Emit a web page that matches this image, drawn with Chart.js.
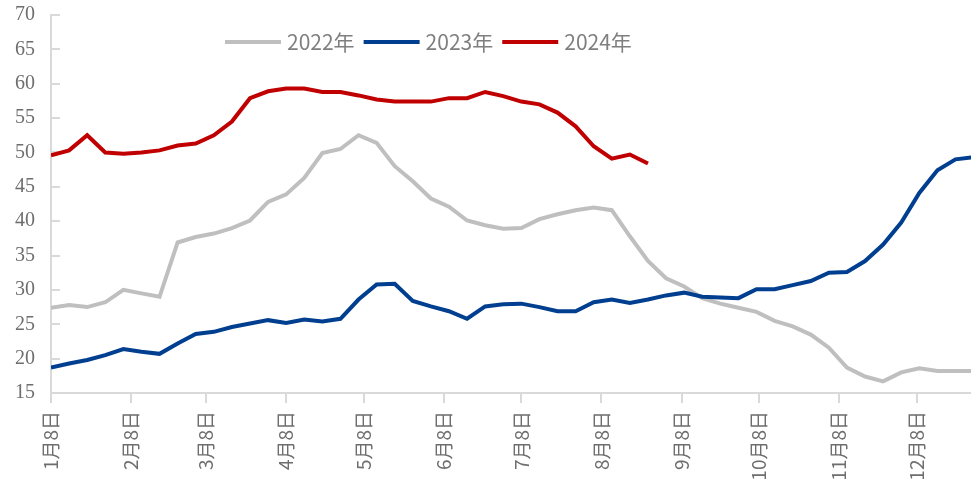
<!DOCTYPE html>
<html>
<head>
<meta charset="utf-8">
<script src="https://cdn.jsdelivr.net/npm/chart.js@4"></script>
<style>
  html, body { margin: 0; padding: 0; background: #fff; }
  #wrap { width: 971px; height: 493px; position: relative; }
</style>
</head>
<body>
<div id="wrap"><canvas id="chart"></canvas></div>
<script>
// weekly sample dates (month/day), shared by the three years
const weekDates = [
    '1/8', '1/15', '1/22', '1/29', '2/5', '2/12', '2/19', '2/26',
    '3/4', '3/11', '3/18', '3/25', '4/1', '4/8', '4/15', '4/22', '4/29',
    '5/6', '5/13', '5/20', '5/27', '6/3', '6/10', '6/17', '6/24',
    '7/1', '7/8', '7/15', '7/22', '7/29', '8/5', '8/12', '8/19', '8/26',
    '9/2', '9/9', '9/16', '9/23', '9/30', '10/7', '10/14', '10/21', '10/28',
    '11/4', '11/11', '11/18', '11/25', '12/2', '12/9', '12/16', '12/23', '12/30'
];

const tickDates = ['1/8', '2/8', '3/8', '4/8', '5/8', '6/8', '7/8', '8/8', '9/8', '10/8', '11/8', '12/8'];
const tickLabels = ['1月8日', '2月8日', '3月8日', '4月8日', '5月8日', '6月8日',
    '7月8日', '8月8日', '9月8日', '10月8日', '11月8日', '12月8日'];

const seriesNames = ['2022年', '2023年', '2024年'];

const values2022 = [
    27.4, 27.8, 27.5, 28.2, 30.0, 29.5, 29.0, 36.9, 37.7, 38.2,
    39.0, 40.1, 42.8, 43.9, 46.3, 49.9, 50.5, 52.5, 51.4, 48.0,
    45.8, 43.3, 42.1, 40.1, 39.4, 38.9, 39.0, 40.3, 41.0, 41.6,
    42.0, 41.6, 37.8, 34.2, 31.7, 30.5, 28.8, 28.0, 27.4, 26.8,
    25.5, 24.7, 23.5, 21.6, 18.7, 17.4, 16.7, 18.0, 18.6, 18.2,
    18.2, 18.2
];

const values2023 = [
    18.7, 19.3, 19.8, 20.5, 21.4, 21.0, 20.7, 22.2, 23.6, 23.9,
    24.6, 25.1, 25.6, 25.2, 25.7, 25.4, 25.8, 28.6, 30.8, 30.9,
    28.4, 27.6, 26.9, 25.8, 27.6, 27.9, 28.0, 27.5, 26.9, 26.9,
    28.2, 28.6, 28.1, 28.6, 29.2, 29.6, 29.0, 28.9, 28.8, 30.1,
    30.1, 30.7, 31.3, 32.5, 32.6, 34.2, 36.6, 39.8, 44.1, 47.4,
    49.0, 49.3
];

const values2024 = [
    49.6, 50.3, 52.5, 50.0, 49.8, 50.0, 50.3, 51.0, 51.3, 52.5,
    54.5, 57.9, 58.9, 59.3, 59.3, 58.8, 58.8, 58.3, 57.7, 57.4,
    57.4, 57.4, 57.9, 57.9, 58.8, 58.2, 57.4, 57.0, 55.8, 53.8,
    50.9, 49.1, 49.7, 48.4
];

const colors = ['#bfbfbf', '#003f8f', '#c00000'];
const textColor = '#6e6e6e';
const axisColor = '#d9d9d9';

// days counted from Jan 8 (2024 calendar, so Feb has 29 days)
function dayOf(md) {
    const [m, d] = md.split('/').map(Number);
    return (Date.UTC(2024, m - 1, d) - Date.UTC(2024, 0, 8)) / 86400000;
}

function toPoints(values) {
    return values.map((v, i) => ({ x: dayOf(weekDates[i]), y: v }));
}

const tickDays = tickDates.map(dayOf);

// legend drawn inside the plot, the way the original places it
const inlineLegend = {
    id: 'inlineLegend',
    afterDraw(chart) {
        const ctx = chart.ctx;
        let x = 225;
        const y = 42;
        ctx.save();
        ctx.font = '21px "Noto Sans CJK SC", "Liberation Sans", sans-serif';
        ctx.textBaseline = 'middle';
        chart.data.datasets.forEach(ds => {
            ctx.strokeStyle = ds.borderColor;
            ctx.lineWidth = 4;
            ctx.beginPath();
            ctx.moveTo(x, y);
            ctx.lineTo(x + 56, y);
            ctx.stroke();
            x += 62;
            ctx.fillStyle = '#7f7f7f';
            ctx.fillText(ds.label, x, y);
            x += ctx.measureText(ds.label).width + 9;
        });
        ctx.restore();
    }
};

const makeSet = (label, values, color, order) => ({
    label: label,
    data: toPoints(values),
    borderColor: color,
    backgroundColor: color,
    borderWidth: 4,
    pointRadius: 0,
    tension: 0,
    order: order
});

new Chart(document.getElementById('chart'), {
    type: 'line',
    data: {
        datasets: [
            makeSet(seriesNames[0], values2022, colors[0], 3),
            makeSet(seriesNames[1], values2023, colors[1], 2),
            makeSet(seriesNames[2], values2024, colors[2], 1)
        ]
    },
    options: {
        responsive: true,
        maintainAspectRatio: false,
        animation: false,
        layout: { padding: { top: 15, right: 0, bottom: 0, left: 0 } },
        scales: {
            x: {
                type: 'linear',
                min: 0,
                max: 356,
                afterBuildTicks: scale => {
                    scale.ticks = tickDays.map(v => ({ value: v }));
                },
                afterFit: scale => { scale.height = 100; },
                grid: { drawOnChartArea: false, tickLength: 10, color: axisColor, lineWidth: 2 },
                border: { display: true, color: axisColor, width: 2 },
                ticks: {
                    autoSkip: false,
                    minRotation: 90,
                    maxRotation: 90,
                    padding: 8,
                    color: textColor,
                    font: { family: '"Noto Sans CJK SC", sans-serif', size: 19 },
                    callback: (value, index) => tickLabels[index]
                }
            },
            y: {
                min: 15,
                max: 70,
                afterFit: scale => {
                    scale.width = 51;
                    scale.paddingTop = 0;
                    scale.paddingBottom = 0;
                },
                grid: { drawOnChartArea: false, tickLength: -9, color: axisColor, lineWidth: 2 },
                border: { display: true, color: axisColor, width: 2 },
                ticks: {
                    stepSize: 5,
                    padding: 25,
                    color: textColor,
                    font: { family: '"Liberation Serif", serif', size: 20 }
                }
            }
        },
        plugins: {
            legend: { display: false },
            tooltip: { enabled: false }
        }
    },
    plugins: [inlineLegend]
});
</script>
</body>
</html>
